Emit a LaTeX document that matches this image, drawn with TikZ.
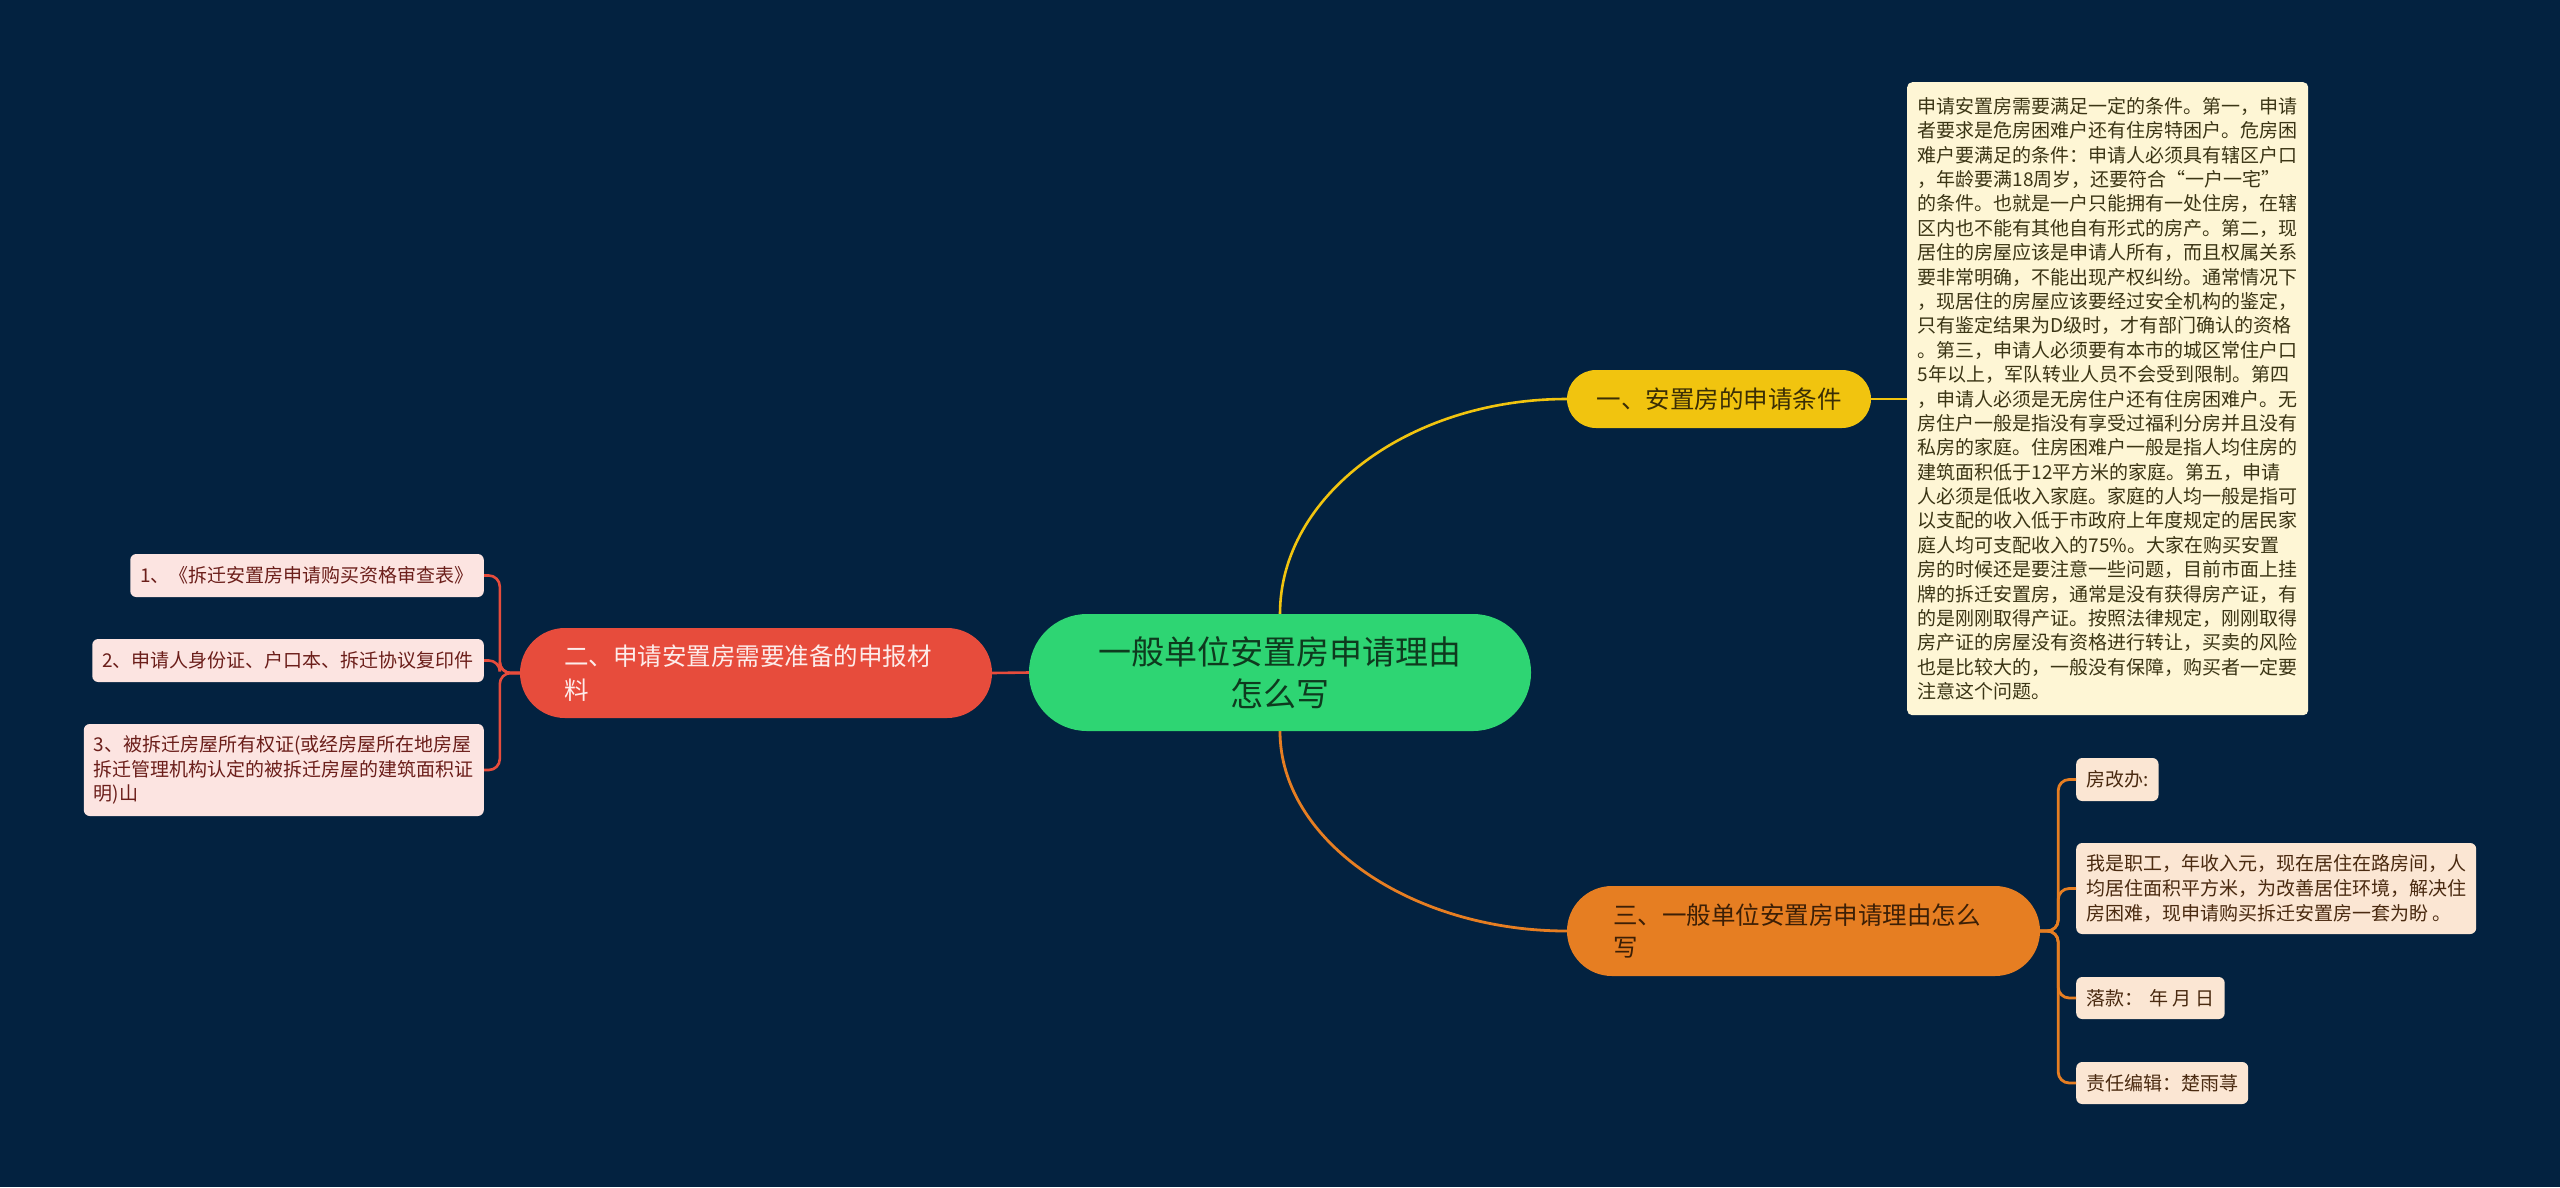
\documentclass[tikz,border=0pt]{standalone}
\usepackage{fontspec}
\setmainfont{Noto Sans CJK SC}
\definecolor{bgc}{RGB}{3,34,64}
\definecolor{cgreen}{HTML}{2ED573}
\definecolor{cgreentxt}{HTML}{0E3A1E}
\definecolor{cyellow}{HTML}{F1C40F}
\definecolor{cyellowtxt}{HTML}{3A2E05}
\definecolor{cred}{HTML}{E74C3C}
\definecolor{credtxt}{HTML}{FDECEA}
\definecolor{corange}{HTML}{E67E22}
\definecolor{corangetxt}{HTML}{3C1F06}
\definecolor{bigfill}{HTML}{FEF6D5}
\definecolor{bigtxt}{HTML}{3B3515}
\definecolor{lfill}{HTML}{FCE4E1}
\definecolor{ltxt}{HTML}{6B1E1A}
\definecolor{rfill}{HTML}{FBE6D3}
\definecolor{rtxt}{HTML}{4A2A10}
\tikzset{
  pill/.style={draw=none, inner sep=0pt, align=center},
  leafl/.style={fill=lfill, text=ltxt, rounded corners=6pt, inner xsep=10pt, inner ysep=0pt, align=left,
    font=\fontsize{19}{24.5}\selectfont},
  leafr/.style={fill=rfill, text=rtxt, rounded corners=6pt, inner xsep=10pt, inner ysep=0pt, align=left,
    font=\fontsize{19}{25}\selectfont},
  ylw/.style={draw=cyellow, line width=2.6pt},
  redl/.style={draw=cred, line width=2.6pt},
  orl/.style={draw=corange, line width=2.8pt},
}
\begin{document}
\begin{tikzpicture}[x=1pt,y=1pt]
\useasboundingbox (0,0) rectangle (2560,-1187);
\fill[bgc] (0,0) rectangle (2560,-1187);

% central node
\node[pill, fill=cgreen, text=cgreentxt, rounded corners=58pt, minimum width=502pt, minimum height=117pt,
  font=\fontsize{33}{42}\selectfont] (c) at (1280,-672.5) {一般单位安置房申请理由\\怎么写};

% branch 1
\node[pill, fill=cyellow, text=cyellowtxt, rounded corners=29pt, minimum width=304pt, minimum height=58pt,
  font=\fontsize{24.5}{30}\selectfont] (a1) at (1719,-399) {一、安置房的申请条件};

\node[fill=bigfill, text=bigtxt, rounded corners=5pt, anchor=north west, inner xsep=10pt, inner ysep=0pt,
  minimum width=401pt, minimum height=633pt, align=left, font=\fontsize{19}{24.4}\selectfont] (big) at (1907,-82) {%
申请安置房需要满足一定的条件。第一，申请\\
者要求是危房困难户还有住房特困户。危房困\\
难户要满足的条件：申请人必须具有辖区户口\\
，年龄要满18周岁，还要符合“一户一宅”\\
的条件。也就是一户只能拥有一处住房，在辖\\
区内也不能有其他自有形式的房产。第二，现\\
居住的房屋应该是申请人所有，而且权属关系\\
要非常明确，不能出现产权纠纷。通常情况下\\
，现居住的房屋应该要经过安全机构的鉴定，\\
只有鉴定结果为D级时，才有部门确认的资格\\
。第三，申请人必须要有本市的城区常住户口\\
5年以上，军队转业人员不会受到限制。第四\\
，申请人必须是无房住户还有住房困难户。无\\
房住户一般是指没有享受过福利分房并且没有\\
私房的家庭。住房困难户一般是指人均住房的\\
建筑面积低于12平方米的家庭。第五，申请\\
人必须是低收入家庭。家庭的人均一般是指可\\
以支配的收入低于市政府上年度规定的居民家\\
庭人均可支配收入的75\%。大家在购买安置\\
房的时候还是要注意一些问题，目前市面上挂\\
牌的拆迁安置房，通常是没有获得房产证，有\\
的是刚刚取得产证。按照法律规定，刚刚取得\\
房产证的房屋没有资格进行转让，买卖的风险\\
也是比较大的，一般没有保障，购买者一定要\\
注意这个问题。};

% branch 2
\node[pill, fill=cred, text=credtxt, rounded corners=45pt, minimum width=472pt, minimum height=90pt,
  text width=384pt, align=left, font=\fontsize{24.5}{34}\selectfont] (a2) at (756,-673) {二、申请安置房需要准备的申报材\\料};

\node[leafl, anchor=east, minimum height=43pt] (l1) at (484,-575.5) {1、《拆迁安置房申请购买资格审查表》};
\node[leafl, anchor=east, minimum height=43pt] (l2) at (484,-660.5) {2、申请人身份证、户口本、拆迁协议复印件};
\node[leafl, anchor=east, minimum height=92pt] (l3) at (484,-770) {3、被拆迁房屋所有权证(或经房屋所在地房屋\\拆迁管理机构认定的被拆迁房屋的建筑面积证\\明)山};

% branch 3
\node[pill, fill=corange, text=corangetxt, rounded corners=45pt, minimum width=473pt, minimum height=90pt,
  text width=381pt, align=left, font=\fontsize{24.5}{32}\selectfont] (a3) at (1803.5,-931) {三、一般单位安置房申请理由怎么\\写};

\node[leafr, anchor=west, minimum height=43pt] (r1) at (2076,-779.5) {房改办:};
\node[leafr, anchor=west, minimum height=91pt] (r2) at (2076,-888.5) {我是职工，年收入元，现在居住在路房间，人\\均居住面积平方米，为改善居住环境，解决住\\房困难，现申请购买拆迁安置房一套为盼 。};
\node[leafr, anchor=west, minimum height=42pt] (r3) at (2076,-998) {落款：\hspace{6pt}年 月 日};
\node[leafr, anchor=west, minimum height=42pt] (r4) at (2076,-1083) {责任编辑：楚雨荨};

% connectors
\draw[ylw] (c.north) .. controls +(0,118) and +(-158,0) .. (a1.west);
\draw[ylw] (a1.east) -- (a1.east -| big.west);
\draw[orl] (c.south) .. controls +(0,-110) and +(-155,0) .. (a3.west);
\draw[redl] (c.west) -- (a2.east);

\foreach \l in {l1,l2,l3} {
  \draw[redl, rounded corners=11pt] (a2.west) -- ++(-20,0) |- (\l.east);
}
\foreach \r in {r1,r2,r3,r4} {
  \draw[orl, rounded corners=11pt] (a3.east) -- ++(18,0) |- (\r.west);
}
\end{tikzpicture}
\end{document}
